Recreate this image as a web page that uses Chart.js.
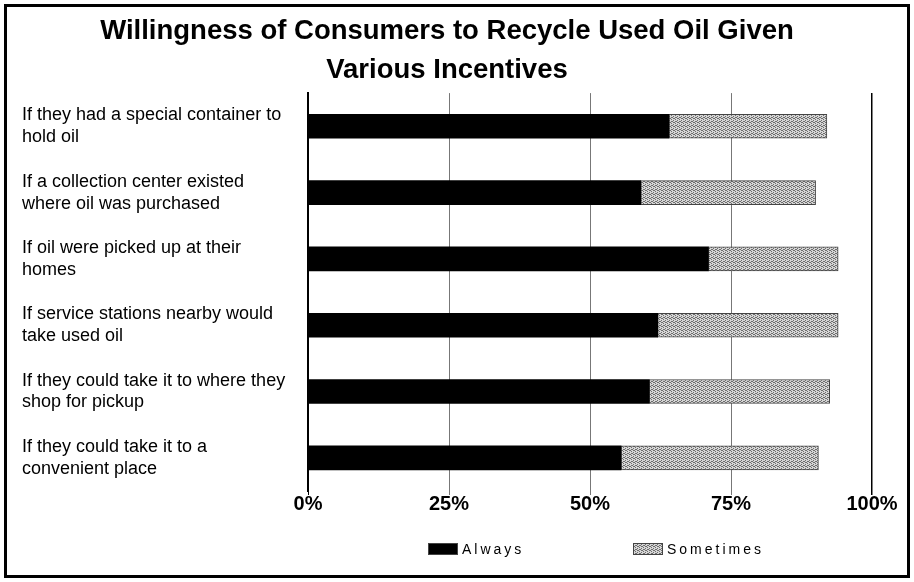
<!doctype html>
<html>
<head>
<title>Willingness to Recycle Used Oil</title>
<script src="https://cdn.jsdelivr.net/npm/chart.js@4.4.1/dist/chart.umd.min.js"></script>
<style>
body { margin: 0; background: #fff; }
#frame {
	position: absolute; left: 4px; top: 4px;
	width: 900px; height: 568px;
	border: 3px solid #000;
}
</style>
</head>
<body>
	<div id="frame">
		<canvas id="canvas"></canvas>
	</div>

	<script>
		var categories = [
			["If they had a special container to", "hold oil"],
			["If a collection center existed", "where oil was purchased"],
			["If oil were picked up at their", "homes"],
			["If service stations nearby would", "take used oil"],
			["If they could take it to where they", "shop for pickup"],
			["If they could take it to a", "convenient place"]
		];
		var always    = [64, 59, 71, 62, 60.5, 55.5];
		var sometimes = [28, 31, 23, 32, 32, 35];
		var tickLabels = { 0: "0%", 25: "25%", 50: "50%", 75: "75%", 100: "100%" };

		// stippled grey fill like the scanned original
		function stipple() {
			var c = document.createElement('canvas');
			c.width = 4; c.height = 4;
			var g = c.getContext('2d');
			g.fillStyle = '#d6d6d6';
			g.fillRect(0, 0, 4, 4);
			g.fillStyle = '#6e6e6e';
			g.fillRect(0, 0, 1, 1); g.fillRect(2, 1, 1, 1);
			g.fillRect(1, 2, 1, 1); g.fillRect(3, 3, 1, 1);
			g.fillRect(2, 3, 1, 1); g.fillRect(0, 2, 1, 1);
			return g.createPattern(c, 'repeat');
		}
		var grey = stipple();

		// legend drawn by hand so the letter spacing looks like the original
		var spacedLegend = {
			id: 'spacedLegend',
			afterDraw: function(chart) {
				var ctx = chart.ctx;
				var items = [
					{ text: 'Always', fill: '#000', x: 421 },
					{ text: 'Sometimes', fill: grey, x: 626 }
				];
				ctx.save();
				ctx.font = '14px "Liberation Sans", Arial, sans-serif';
				ctx.textBaseline = 'middle';
				items.forEach(function(it) {
					ctx.fillStyle = it.fill;
					ctx.fillRect(it.x, 536, 30, 12);
					ctx.strokeStyle = '#444';
					ctx.lineWidth = 1;
					ctx.strokeRect(it.x + 0.5, 536.5, 29, 11);
					ctx.fillStyle = '#000';
					ctx.letterSpacing = '3px';
					ctx.fillText(it.text, it.x + 34, 543);
				});
				ctx.restore();
			}
		};

		var ctx = document.getElementById('canvas').getContext('2d');
		window.myBar = new Chart(ctx, {
			type: 'bar',
			data: {
				labels: categories,
				datasets: [{
					label: 'Always',
					backgroundColor: '#000',
					borderWidth: 0,
					data: always
				}, {
					label: 'Sometimes',
					backgroundColor: grey,
					borderColor: '#444',
					borderWidth: 1,
					borderSkipped: false,
					data: sometimes
				}]
			},
			plugins: [spacedLegend],
			options: {
				indexAxis: 'y',
				responsive: true,
				maintainAspectRatio: false,
				animation: false,
				layout: { padding: { left: 15, right: 35, top: 0, bottom: 62 } },
				datasets: { bar: { barThickness: 24 } },
				plugins: {
					legend: { display: false },
					tooltip: { enabled: false },
					title: {
						display: true,
						text: ["Willingness of Consumers to Recycle Used Oil Given", "Various Incentives"],
						color: '#000',
						font: { family: '"Liberation Sans", Arial, sans-serif', size: 27.5, weight: 'bold', lineHeight: 1.42 },
						padding: { top: 5, bottom: 3 }
					}
				},
				scales: {
					x: {
						stacked: true,
						min: 0,
						max: 100,
						ticks: {
							stepSize: 25,
							color: '#000',
							padding: -3,
							font: { family: '"Liberation Sans", Arial, sans-serif', size: 20, weight: 'bold' },
							callback: function(v) { return tickLabels[v]; }
						},
						grid: {
							tickLength: 4,
							color: function(c) { return (c.tick && (c.tick.value === 0 || c.tick.value === 100)) ? '#000' : '#777'; },
							lineWidth: function(c) { return (c.tick && c.tick.value === 100) ? 1.5 : 1; }
						},
						border: { display: false }
					},
					y: {
						stacked: true,
						afterFit: function(scale) { scale.width = 286; },
						ticks: {
							crossAlign: 'far',
							color: '#000',
							font: { family: '"Liberation Sans", Arial, sans-serif', size: 18, lineHeight: 1.22 }
						},
						grid: { display: false },
						border: { display: true, color: '#000', width: 2 }
					}
				}
			}
		});
	</script>
</body>
</html>
